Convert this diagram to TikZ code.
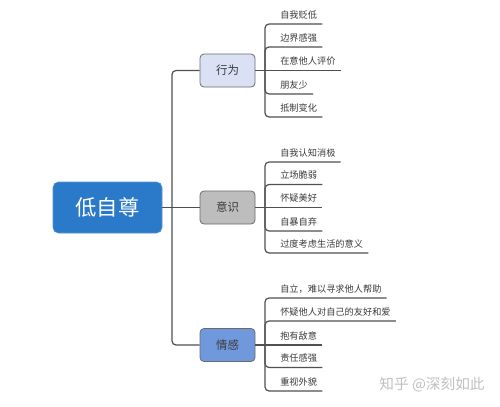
\documentclass[tikz,border=0pt]{standalone}
\usepackage{fontspec}
\setmainfont{Noto Sans CJK SC}
\usepackage{tikz}
\usetikzlibrary{arrows}

\definecolor{rootblue}{RGB}{43,121,201}
\definecolor{xwfill}{RGB}{218,225,245}
\definecolor{ysfill}{RGB}{189,189,189}
\definecolor{qgfill}{RGB}{112,153,221}
\definecolor{linegray}{RGB}{80,80,80}
\definecolor{textgray}{RGB}{58,58,58}

\tikzset{
  rootbox/.style={draw=rootblue!80!white, fill=rootblue, rounded corners=4pt, minimum width=81.75pt, minimum height=38.25pt, inner sep=0pt, text=white, font=\fontsize{16}{18}\selectfont},
  branchbox/.style={draw=linegray!85, line width=0.6pt, rounded corners=3pt, minimum width=41.25pt, minimum height=24.75pt, inner sep=0pt, text=textgray, font=\fontsize{8.6}{10}\selectfont},
  leaf/.style={anchor=south west, inner xsep=3.75pt, inner ysep=2.5pt, text height=6pt, text depth=1.5pt, text=textgray, font=\fontsize{6.9}{8}\selectfont},
  conn/.style={draw=linegray, line width=0.9pt},
  elbow/.style={conn, rounded corners=3pt}
}

\begin{document}
\begin{tikzpicture}[x=0.75pt,y=0.75pt,yscale=-1,xscale=1]
\useasboundingbox (0,0) rectangle (500,407);

% Root Node
\node [rootbox] (root) at (107.5,207.5) {低自尊};

% Branch Nodes
\node [branchbox, fill=xwfill] (xw) at (227.5,70.5) {行为};
\node [branchbox, fill=ysfill] (ys) at (227.5,207.5) {意识};
\node [branchbox, fill=qgfill] (qg) at (227.5,345) {情感};

% Leaf Nodes: 行为
\node [leaf] (xw1) at (275,24) {自我贬低};
\node [leaf] (xw2) at (275,47) {边界感强};
\node [leaf] (xw3) at (275,70.5) {在意他人评价};
\node [leaf] (xw4) at (275,94) {朋友少};
\node [leaf] (xw5) at (275,117) {抵制变化};

% Leaf Nodes: 意识
\node [leaf] (ys1) at (275,162) {自我认知消极};
\node [leaf] (ys2) at (275,184.5) {立场脆弱};
\node [leaf] (ys3) at (275,207.5) {怀疑美好};
\node [leaf] (ys4) at (275,231) {自暴自弃};
\node [leaf] (ys5) at (275,253) {过度考虑生活的意义};

% Leaf Nodes: 情感
\node [leaf] (qg1) at (275,298) {自立，难以寻求他人帮助};
\node [leaf] (qg2) at (275,321) {怀疑他人对自己的友好和爱};
\node [leaf] (qg3) at (275,345) {抱有敌意};
\node [leaf] (qg4) at (275,367.5) {责任感强};
\node [leaf] (qg5) at (275,391) {重视外貌};

% Junctions
\coordinate (rj) at (172,207.5);
\coordinate (xwj) at (265,70.5);
\coordinate (ysj) at (265,207.5);
\coordinate (qgj) at (265,345);

% Trunk
\draw [conn] (root.east) -- (ys.west);
\draw [elbow] (rj) |- (xw.west);
\draw [elbow] (rj) |- (qg.west);

% Leaf lines: 行为
\draw [conn] (xw.east) -- (xw3.south east);
\draw [elbow] (xwj) |- (xw1.south east);
\draw [elbow] (xwj) |- (xw2.south east);
\draw [elbow] (xwj) |- (xw4.south east);
\draw [elbow] (xwj) |- (xw5.south east);

% Leaf lines: 意识
\draw [conn] (ys.east) -- (ys3.south east);
\draw [elbow] (ysj) |- (ys1.south east);
\draw [elbow] (ysj) |- (ys2.south east);
\draw [elbow] (ysj) |- (ys4.south east);
\draw [elbow] (ysj) |- (ys5.south east);

% Leaf lines: 情感
\draw [conn] (qg.east) -- (qg3.south east);
\draw [elbow] (qgj) |- (qg1.south east);
\draw [elbow] (qgj) |- (qg2.south east);
\draw [elbow] (qgj) |- (qg4.south east);
\draw [elbow] (qgj) |- (qg5.south east);

% Text Node
\node [text=black!25, font=\fontsize{11}{13}\selectfont] (mark) at (432,385) {知乎 @深刻如此};

\end{tikzpicture}
\end{document}
